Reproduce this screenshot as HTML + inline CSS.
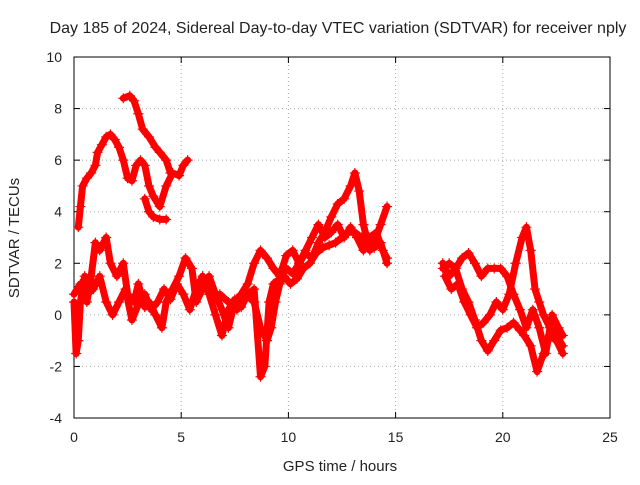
<!DOCTYPE html>
<html><head><meta charset="utf-8"><style>
body{margin:0;background:#fff;}
svg text{font-family:"Liberation Sans",sans-serif;fill:#222;}
</style></head><body>
<svg id="c" width="640" height="480" xmlns="http://www.w3.org/2000/svg">
<rect width="640" height="480" fill="#fff"/>
<text x="338" y="33" font-size="16" text-anchor="middle">Day 185 of 2024, Sidereal Day-to-day VTEC variation (SDTVAR) for receiver nply</text>
<text x="340" y="471" font-size="15" text-anchor="middle">GPS time / hours</text>
<text transform="translate(19,238) rotate(-90)" font-size="15" text-anchor="middle">SDTVAR / TECUs</text>
<g id="grid"></g><g id="axes"></g><g id="data"></g>
</svg>
<script>
const xTicks=[0,5,10,15,20,25];
const yTicks=[-4,-2,0,2,4,6,8,10];
const sA_t=[0.2,0.3,0.4,0.6,0.8,1.0,1.1,1.3,1.5,1.7,1.9,2.1,2.3,2.5,2.7,2.9,3.1,3.3,3.5,3.7,4.0,4.3,4.6,4.9,5.1,5.3];
const sA_v=[3.4,4.2,5.0,5.3,5.5,5.8,6.3,6.6,6.9,7.0,6.8,6.5,6.0,5.3,5.2,5.8,6.0,5.8,5.0,4.6,4.2,5.0,5.5,5.4,5.8,6.0];
const sA2_t=[2.3,2.6,2.8,3.0,3.2,3.5,3.8,4.0,4.3,4.5];
const sA2_v=[8.4,8.5,8.3,7.8,7.2,6.9,6.5,6.3,6.0,5.5];
const sA3_t=[3.3,3.5,3.7,4.0,4.3];
const sA3_v=[4.5,4.0,3.8,3.7,3.7];
const sB_t=[0,0.1,0.2,0.3,0.5,0.6,0.8,1.0,1.2,1.5,1.7,2.0,2.3,2.5,2.8,3.0,3.3,3.5,3.8,4.1,4.3,4.6,4.9,5.2,5.5,5.7,6.0,6.3,6.6,6.9,7.2,7.5,7.8,8.1,8.4,8.7,9.0,9.3,9.6,9.9,10.2,10.5,10.8,11.1,11.4,11.7,12.0,12.3,12.6,12.9,13.2,13.5,13.8,14.1,14.4,14.6];
const sB_v=[0.5,-1.5,-1.0,0.5,1.5,0.5,1.5,2.8,2.5,3.0,2.0,1.5,2.0,0.8,0.5,1.2,0.3,0.5,0.0,-0.5,0.5,1.0,1.5,2.2,1.8,0.5,1.0,1.5,0.8,0.2,-0.5,0.5,0.8,1.2,2.0,2.5,2.2,1.8,1.5,2.3,2.5,2.0,2.5,3.0,3.5,3.0,3.2,3.5,3.0,3.4,3.0,2.5,3.0,3.2,2.5,2.2];
const sC_t=[0,0.3,0.6,0.9,1.2,1.5,1.8,2.1,2.4,2.7,3.0,3.3,3.6,3.9,4.2,4.5,4.8,5.1,5.4,5.7,6.0,6.3,6.6,6.9,7.2,7.5,7.8,8.1,8.4,8.7,8.9,9.1,9.3,9.6,9.9,10.2,10.5,10.8,11.1,11.4,11.7,12.0,12.3,12.6,12.9,13.1,13.3,13.5,13.8,14.0,14.3,14.6];
const sC_v=[0.8,1.2,0.8,1.0,1.5,0.5,0.0,0.5,1.0,-0.2,0.4,0.8,0.2,0.5,1.0,0.6,1.2,0.8,0.2,1.0,1.5,0.8,0.0,-0.8,0.2,0.6,0.3,0.8,1.0,-2.4,-2.0,0.5,1.2,1.4,1.8,1.6,2.0,2.4,2.2,2.8,3.2,3.8,4.3,4.5,5.0,5.5,4.8,3.5,2.5,2.8,3.5,4.2];
const sD_t=[6.8,7.2,7.6,8.0,8.4,8.7,9.0,9.2,9.4,9.6,9.8,10.1,10.4,10.7,11.0,11.3,11.6,11.9,12.2,12.5,12.8,13.1,13.4,13.7,14.0,14.3,14.6];
const sD_v=[0.8,0.5,0.2,0.8,0.5,-0.5,-1.0,-0.5,0.5,1.2,1.5,1.2,1.4,1.8,2.0,2.4,2.6,2.7,2.8,3.0,3.2,3.2,3.0,2.7,2.6,2.8,2.0];
const sE_t=[17.2,17.5,17.8,18.1,18.4,18.7,19.0,19.3,19.6,19.9,20.2,20.5,20.8,21.0,21.3,21.6,21.9,22.2,22.5,22.8];
const sE_v=[2.0,1.5,1.8,1.0,0.5,-0.2,-1.0,-1.4,-1.0,-0.6,-0.5,-0.3,-0.6,-0.8,-1.2,-2.2,-1.5,-0.8,-1.0,-1.5];
const sF_t=[17.2,17.5,17.8,18.1,18.4,18.7,19.0,19.3,19.6,19.9,20.2,20.5,20.8,21.1,21.4,21.7,22.0,22.3,22.6,22.8];
const sF_v=[1.8,2.0,1.8,2.2,2.4,2.0,1.5,1.8,1.8,1.8,1.5,0.8,0.2,-0.5,0.2,-0.5,-1.5,0.0,-0.5,-0.8];
const sG_t=[17.3,17.6,17.9,18.2,18.5,18.8,19.1,19.4,19.7,20.0,20.3,20.6,20.9,21.1,21.3,21.5,21.7,21.9,22.2,22.5,22.8];
const sG_v=[1.5,1.0,1.2,0.5,0.0,-0.5,-0.3,0.0,0.5,0.2,0.8,2.0,3.0,3.4,2.5,1.0,0.5,0.0,-0.5,-0.8,-1.2];

const NS="http://www.w3.org/2000/svg";
const X0=74,X1=610,Y0=418,Y1=57;
const xs=t=>X0+(t-0)/25*(X1-X0);
const ys=v=>Y0-(v+4)/14*(Y0-Y1);
function mk(tag,attrs,parent){const e=document.createElementNS(NS,tag);for(const k in attrs)e.setAttribute(k,attrs[k]);parent.appendChild(e);return e;}
const grid=document.getElementById('grid'),axes=document.getElementById('axes'),data=document.getElementById('data');
xTicks.forEach(t=>{
  const x=xs(t);
  if(t>0&&t<25){const g=mk('line',{x1:x,x2:x,y1:Y1,y2:Y0,stroke:'#aaa','stroke-dasharray':'1,3'},grid);
  
  }
  mk('line',{x1:x,x2:x,y1:Y0,y2:Y0-6,stroke:'#000'},axes);
  mk('line',{x1:x,x2:x,y1:Y1,y2:Y1+6,stroke:'#000'},axes);
  const tx=mk('text',{x:x,y:Y0+24,'font-size':14,'text-anchor':'middle'},axes);
  tx.textContent=t;
  
  
});
yTicks.forEach(v=>{
  const y=ys(v);
  if(v>-4&&v<10){const g=mk('line',{x1:X0,x2:X1,y1:y,y2:y,stroke:'#aaa','stroke-dasharray':'1,3'},grid);
  
  }
  mk('line',{x1:X0,x2:X0+6,y1:y,y2:y,stroke:'#000'},axes);
  mk('line',{x1:X1,x2:X1-6,y1:y,y2:y,stroke:'#000'},axes);
  const tx=mk('text',{x:X0-12,y:y+5,'font-size':14,'text-anchor':'end'},axes);
  tx.textContent=v;
  
  
});
const fr=mk('rect',{x:X0,y:Y1,width:X1-X0,height:Y0-Y1,fill:'none',stroke:'#000'},axes);


const series=[[sA_t,sA_v],[sA2_t,sA2_v],[sA3_t,sA3_v],[sB_t,sB_v],[sC_t,sC_v],[sD_t,sD_v],[sE_t,sE_v],[sF_t,sF_v],[sG_t,sG_v]];
series.forEach(([T,V])=>{
  const g=mk('g',{},data);
  
  
  const d=T.map((t,i)=>(i?'L':'M')+xs(t).toFixed(1)+','+ys(V[i]).toFixed(1)).join('');
  mk('path',{d:d,fill:'none',stroke:'#f00','stroke-width':7,'stroke-linejoin':'round','stroke-linecap':'round'},g);
  T.forEach((t,i)=>{
    const x=xs(t),y=ys(V[i]);
    const p=mk('path',{d:`M${x-5},${y}h10M${x},${y-5}v10`,stroke:'#f00','stroke-width':1.2},g);
    
    
  });
});
</script>
</body></html>
